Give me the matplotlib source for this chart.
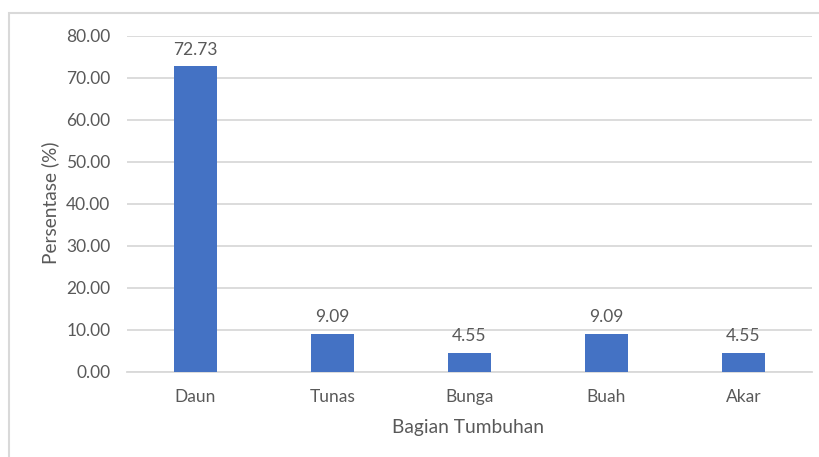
import numpy as np
import matplotlib
matplotlib.use("Agg")
import matplotlib.pyplot as plt
from matplotlib.patches import Rectangle

categories = ["Daun", "Tunas", "Bunga", "Buah", "Akar"]
persentase = [72.73, 9.09, 4.55, 9.09, 4.55]
y_ticks = [0, 10, 20, 30, 40, 50, 60, 70, 80]

bar_color = "#4472C4"
grid_color = "#D9D9D9"
text_color = "#595959"

plt.rcParams["font.family"] = ["Lato", "DejaVu Sans"]

W, H = 820, 457
fig = plt.figure(figsize=(W / 100, H / 100), dpi=100)
fig.patch.set_facecolor("white")

# outer chart border (clipped at the right and bottom like the screenshot)
fig.patches.append(Rectangle((9 / W, -0.1), 1.2, (H - 13) / H + 0.1,
                             transform=fig.transFigure, fill=False,
                             edgecolor=grid_color, linewidth=1.5))

ax = fig.add_axes([127 / W, (H - 371.7) / H, 685 / W, 336 / H])
x = np.arange(len(categories))
bars = ax.bar(x, persentase, width=0.314, color=bar_color, zorder=3)

ax.set_xlim(-0.5, len(categories) - 0.5)
ax.set_ylim(0, 80)
ax.set_yticks(y_ticks)
ax.set_yticklabels([f"{v:.2f}" for v in y_ticks])
ax.set_xticks(x)
ax.set_xticklabels(categories)
ax.yaxis.grid(True, color=grid_color, linewidth=1.3, zorder=0)
for s in ["top", "right", "left"]:
    ax.spines[s].set_visible(False)
ax.spines["bottom"].set_color(grid_color)
ax.spines["bottom"].set_linewidth(1.3)
ax.tick_params(axis="both", length=0, colors=text_color, labelsize=12.5)
ax.tick_params(axis="x", pad=12.5)
ax.tick_params(axis="y", pad=12)

for b, v in zip(bars, persentase):
    ax.annotate(f"{v:.2f}", (b.get_x() + b.get_width() / 2, v),
                xytext=(0, 6), textcoords="offset points",
                ha="center", va="bottom", fontsize=12.5, color=text_color)

fig.text(50 / W, 1 - 203 / H, "Persentase (%)", rotation=90,
         ha="center", va="center", fontsize=13.8, color=text_color)
fig.text(468.5 / W, 1 - 427 / H, "Bagian Tumbuhan",
         ha="center", va="center", fontsize=13.8, color=text_color)

fig.savefig("out.png", dpi=100)
